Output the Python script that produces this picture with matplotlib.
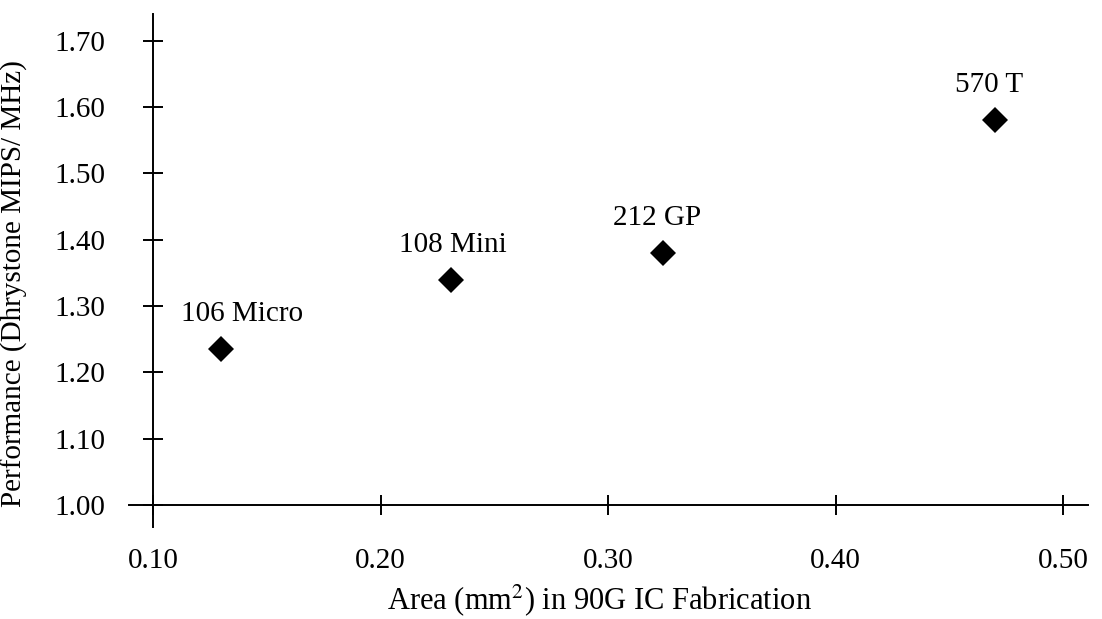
import matplotlib
matplotlib.use("Agg")
import matplotlib.pyplot as plt
from matplotlib.ticker import FormatStrFormatter

# data
names = ["106 Micro", "108 Mini", "212 GP", "570 T"]
area = [0.130, 0.231, 0.324, 0.470]
perf = [1.235, 1.339, 1.380, 1.581]

x_ticks = [0.10, 0.20, 0.30, 0.40, 0.50]
y_ticks = [1.00, 1.10, 1.20, 1.30, 1.40, 1.50, 1.60, 1.70]

# label offsets from marker centre, in points (dx, dy)
label_offsets = [(15, 20), (1, 20), (-4, 20), (-4, 20)]

plt.rcParams["font.family"] = ["Liberation Serif", "DejaVu Serif"]
plt.rcParams["mathtext.fontset"] = "stix"

W, H = 1102, 619
fig = plt.figure(figsize=(W / 100, H / 100), dpi=100)

# axes box in pixels
left, right, top, bottom = 129.3, 1088.3, 13.7, 527.0
ax = fig.add_axes([left / W, 1 - bottom / H, (right - left) / W, (bottom - top) / H])

ax.set_xlim(0.0895, 0.511)
ax.set_ylim(0.9668, 1.7407)

ax.plot(area, perf, linestyle="none", marker="D", markersize=13.6,
        color="black", markeredgewidth=0)

for name, xv, yv, off in zip(names, area, perf, label_offsets):
    ax.annotate(name, (xv, yv), xytext=off, textcoords="offset points",
                ha="center", va="baseline", fontsize=21)

for side in ["top", "right"]:
    ax.spines[side].set_visible(False)
ax.spines["left"].set_position(("data", 0.10))
ax.spines["bottom"].set_position(("data", 1.00))
for side in ["left", "bottom"]:
    ax.spines[side].set_linewidth(1.4)

ax.set_xticks(x_ticks)
ax.set_yticks(y_ticks)
ax.xaxis.set_major_formatter(FormatStrFormatter("%.2f"))
ax.yaxis.set_major_formatter(FormatStrFormatter("%.2f"))
ax.tick_params(axis="both", direction="inout", length=14.4, width=1.4,
               labelsize=21, colors="black")
ax.tick_params(axis="x", pad=24)
ax.tick_params(axis="y", pad=27)

ax.set_xlabel(r"Area (mm$^2$) in 90G IC Fabrication", fontsize=22)
ax.set_ylabel("Performance (Dhrystone MIPS/ MHz)", fontsize=21)
ax.xaxis.set_label_coords(0.49, -0.108)
ax.yaxis.set_label_coords(-0.106, 0.475)

fig.savefig("out.png", dpi=100)
